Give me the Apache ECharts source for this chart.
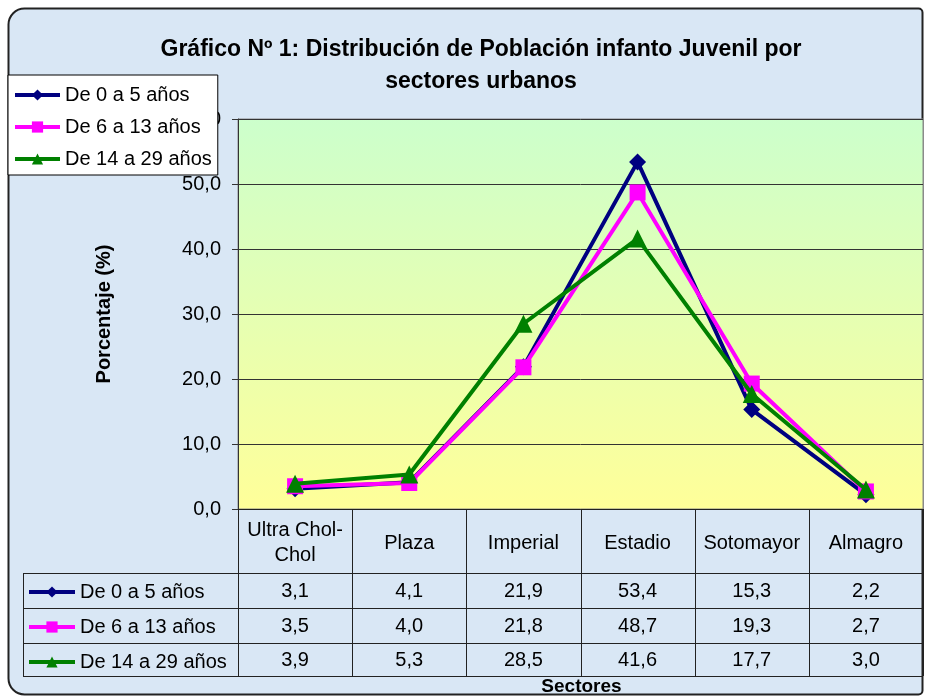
<!DOCTYPE html>
<html lang="es">
<head>
<meta charset="UTF-8">
<title>Gráfico Nº 1</title>
<script src="https://cdn.jsdelivr.net/npm/echarts@6/dist/echarts.min.js"></script>
<style>
  html, body { margin: 0; padding: 0; background: #fff; }
  #main { width: 925px; height: 698px; }
</style>
</head>
<body>
<div id="main"></div>
<script type="text/javascript">
// datos del grafico
var sectores = ['Ultra Chol-Chol', 'Plaza', 'Imperial', 'Estadio', 'Sotomayor', 'Almagro'];
var nombres = ['De 0 a 5 años', 'De 6 a 13 años', 'De 14 a 29 años'];
var edad0a5 = [3.1, 4.1, 21.9, 53.4, 15.3, 2.2];
var edad6a13 = [3.5, 4.0, 21.8, 48.7, 19.3, 2.7];
var edad14a29 = [3.9, 5.3, 28.5, 41.6, 17.7, 3.0];
var colores = ['#000080', '#ff00ff', '#008000'];
var simbolos = ['diamond', 'rect', 'triangle'];
var tamanos = [17, 16, 18];

var valores = [edad0a5, edad6a13, edad14a29];
var fuente = 'Arial, "Liberation Sans", sans-serif';

function coma(v) {
    return v.toFixed(1).replace('.', ',');
}

var myChart = echarts.init(document.getElementById('main'));

var series = [];
for (var i = 0; i < valores.length; i++) {
    series.push({
        name: nombres[i],
        type: 'line',
        data: valores[i],
        symbol: simbolos[i],
        symbolSize: tamanos[i],
        z: 3 + i,
        lineStyle: { color: colores[i], width: 4 },
        itemStyle: { color: colores[i] }
    });
}

var leyendaTexto = { fontFamily: fuente, fontSize: 20, color: '#000' };

myChart.setOption({
    animation: false,
    textStyle: { fontFamily: fuente },
    title: {
        text: 'Gráfico Nº 1: Distribución de Población infanto Juvenil por\nsectores urbanos',
        left: 476,
        top: 29,
        textAlign: 'center',
        textStyle: { fontFamily: fuente, fontSize: 23, fontWeight: 'bold', color: '#000', lineHeight: 32 }
    },
    legend: [{
        data: nombres,
        orient: 'vertical',
        left: 8,
        top: 75,
        padding: [10, 6, 6, 5],
        itemWidth: 45,
        itemHeight: 14,
        itemGap: 12,
        lineStyle: { width: 4 },
        backgroundColor: '#fff',
        borderColor: '#000',
        borderWidth: 1,
        textStyle: leyendaTexto,
        z: 10
    }, {
        data: nombres,
        orient: 'vertical',
        left: 23,
        top: 578,
        padding: [4, 4, 4, 4],
        itemWidth: 46,
        itemHeight: 14,
        itemGap: 15,
        lineStyle: { width: 4 },
        textStyle: leyendaTexto
    }],
    grid: {
        left: 238,
        right: 2,
        top: 119,
        height: 390,
        outerBoundsMode: 'none',
        containLabel: false,
        show: true,
        borderColor: '#888',
        borderWidth: 1,
        backgroundColor: new echarts.graphic.LinearGradient(0, 0, 0, 1, [
            { offset: 0, color: '#ccffcc' },
            { offset: 1, color: '#ffff99' }
        ])
    },
    xAxis: {
        type: 'category',
        data: sectores,
        boundaryGap: true,
        axisLine: { lineStyle: { color: '#222', width: 1 } },
        axisTick: { show: false },
        axisLabel: {
            interval: 0,
            margin: 34,
            fontSize: 20,
            lineHeight: 25,
            color: '#000',
            verticalAlign: 'middle',
            formatter: function (v) { return v.replace('-', '-\n'); }
        }
    },
    yAxis: {
        type: 'value',
        min: 0,
        max: 60,
        interval: 10,
        axisLine: { show: true, lineStyle: { color: '#333' } },
        axisTick: { show: true, length: 6, lineStyle: { color: '#333' } },
        axisLabel: {
            fontSize: 20,
            color: '#000',
            margin: 17,
            formatter: function (v) { return coma(v); }
        },
        splitLine: { lineStyle: { color: '#333', width: 1 } },
        name: 'Porcentaje (%)',
        nameLocation: 'middle',
        nameGap: 124,
        nameTextStyle: { fontFamily: fuente, fontSize: 20, fontWeight: 'bold', color: '#000' }
    },
    series: series
});

// tabla de datos bajo el eje x
function dibujarTabla() {
    var elementos = [];
    var ancho = myChart.convertToPixel({ xAxisIndex: 0 }, 1) - myChart.convertToPixel({ xAxisIndex: 0 }, 0);
    var x0 = myChart.convertToPixel({ xAxisIndex: 0 }, 0) - ancho / 2;
    var xFin = x0 + ancho * sectores.length;
    var yEje = myChart.convertToPixel({ yAxisIndex: 0 }, 0);
    var filas = [573, 608, 643, 676];
    var linea = { stroke: '#222', lineWidth: 1 };

    elementos.push({
        type: 'rect', z: -10, silent: true,
        shape: { x: 8.5, y: 8.5, width: 914, height: 686, r: [16, 4, 4, 16] },
        style: { fill: '#d9e7f5', stroke: '#222', lineWidth: 2 }
    });
    for (var k = 0; k < filas.length; k++) {
        elementos.push({ type: 'line', silent: true, shape: { x1: 23, y1: filas[k] + 0.5, x2: xFin, y2: filas[k] + 0.5 }, style: linea });
    }
    elementos.push({ type: 'line', silent: true, shape: { x1: 23.5, y1: filas[0], x2: 23.5, y2: filas[3] }, style: linea });
    for (var c = 0; c <= sectores.length; c++) {
        var xc = Math.round(x0 + ancho * c) + 0.5;
        elementos.push({ type: 'line', silent: true, shape: { x1: xc, y1: yEje, x2: xc, y2: filas[3] }, style: linea });
    }
    for (var s = 0; s < valores.length; s++) {
        for (var j = 0; j < sectores.length; j++) {
            elementos.push({
                type: 'text', silent: true,
                x: myChart.convertToPixel({ xAxisIndex: 0 }, j),
                y: (filas[s] + filas[s + 1]) / 2 + 1,
                style: {
                    text: coma(valores[s][j]),
                    fontFamily: fuente, fontSize: 20, fill: '#000',
                    align: 'center', verticalAlign: 'middle'
                }
            });
        }
    }
    // titulo del eje x
    elementos.push({
        type: 'text', silent: true,
        x: (x0 + xFin) / 2 + 1,
        y: 687,
        style: {
            text: 'Sectores',
            fontFamily: fuente, fontSize: 19, fontWeight: 'bold', fill: '#000',
            align: 'center', verticalAlign: 'middle'
        }
    });
    myChart.setOption({ graphic: elementos });
}
dibujarTabla();
</script>
</body>
</html>
